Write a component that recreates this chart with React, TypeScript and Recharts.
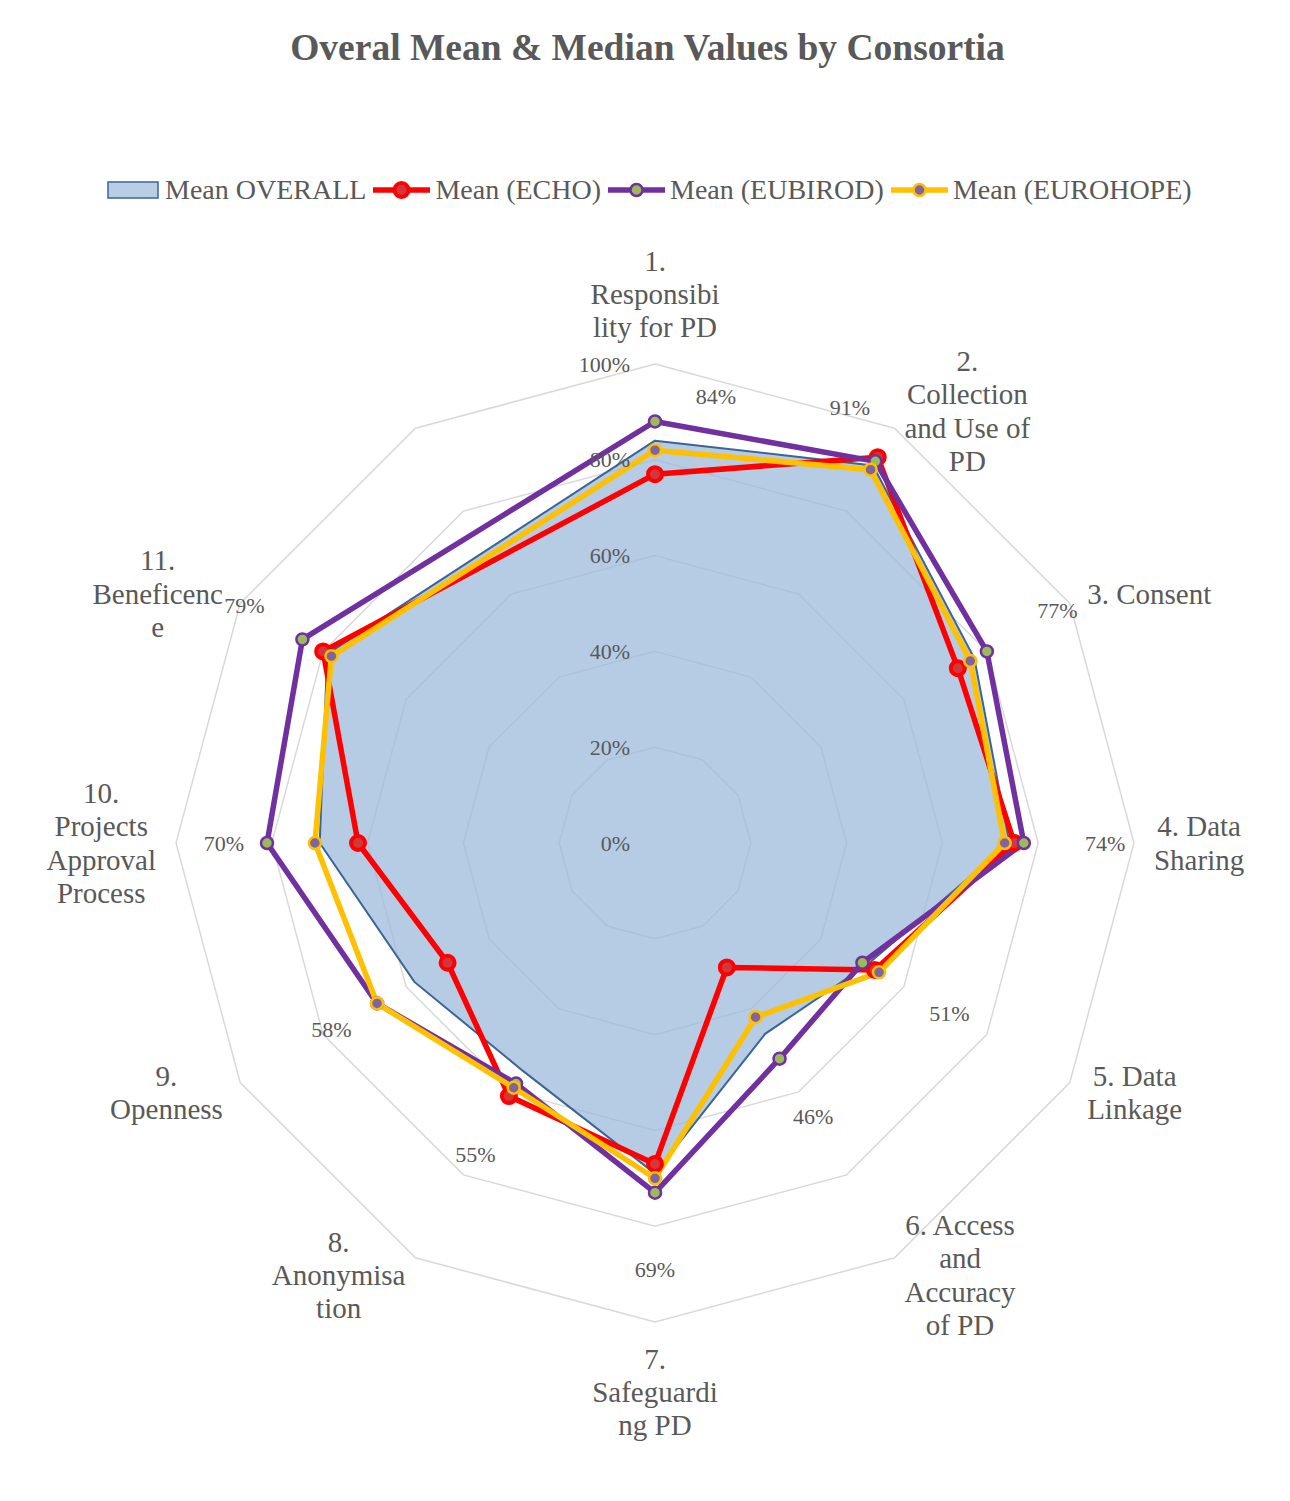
import React from 'react'
import { RadarChart, Radar, PolarGrid, PolarAngleAxis, PolarRadiusAxis } from 'recharts'

// category labels, line breaks as Excel wrapped them; the chart has 12 spokes, the 12th is empty
const categories = [
  '1.\nResponsibi\nlity for PD',
  '2.\nCollection\nand Use of\nPD',
  '3. Consent',
  '4. Data\nSharing',
  '5. Data\nLinkage',
  '6. Access\nand\nAccuracy\nof PD',
  '7.\nSafeguardi\nng PD',
  '8.\nAnonymisa\ntion',
  '9.\nOpenness',
  '10.\nProjects\nApproval\nProcess',
  '11.\nBeneficenc\ne',
]
const spokes = [0, 1, 2, 3, 4, 5, 6, 7, 8, 9, 10, 11]

const meanOverall = [84, 91, 77, 74, 51, 46, 69, 55, 58, 70, 79]
const meanEcho = [77, 93, 73, 75, 53, 30, 67, 61, 50, 62, 80]
const meanEubirod = [88, 92, 80, 77, 50, 52, 73, 58, 67, 81, 85]
const meanEurohope = [82, 90, 76, 73, 54, 42, 70, 59, 67, 71, 78]

const seriesNames = ['Mean OVERALL', 'Mean (ECHO)', 'Mean (EUBIROD)', 'Mean (EUROHOPE)']
const radiusTicks = [0, 20, 40, 60, 80, 100]

const data = categories.map((name, i) => ({
  idx: i,
  name,
  overall: meanOverall[i],
  echo: meanEcho[i],
  eubirod: meanEubirod[i],
  eurohope: meanEurohope[i],
}))

const W = 1290
const H = 1501
const CX = 655
const CY = 843
const R = 479
const FONT = '"Liberation Serif", "Times New Roman", serif'
const TEXT = '#595959'
const CAT_SIZE = 29
const LH = 33.3

const lineSeries = [
  { key: 'echo', name: seriesNames[1], stroke: '#ff0000', dotFill: '#d0383c', dotStroke: '#ff0000', r: 7, dotWidth: 4 },
  { key: 'eubirod', name: seriesNames[2], stroke: '#7030a0', dotFill: '#9bbb59', dotStroke: '#7030a0', r: 6, dotWidth: 2.5 },
  { key: 'eurohope', name: seriesNames[3], stroke: '#ffc000', dotFill: '#8064a2', dotStroke: '#ffc000', r: 6, dotWidth: 2.5 },
]

// the first two value labels were moved by hand in the original
const labelShift: Record<number, [number, number]> = { 0: [61, -44], 1: [-23, -58] }

let ctx: CanvasRenderingContext2D | null = null
function textWidth(s: string, size: number) {
  if (!ctx) ctx = document.createElement('canvas').getContext('2d')
  if (!ctx) return s.length * size * 0.48
  ctx.font = `${size}px "Liberation Serif"`
  return ctx.measureText(s).width
}

function CategoryTick(props: any) {
  const { x, y, payload } = props
  const label = categories[Number(payload.value)]
  if (!label) return <g />
  const lines = label.split('\n')
  const a = (-payload.coordinate * Math.PI) / 180
  const ux = Math.cos(a)
  const uy = Math.sin(a)
  const px = x + 12 * ux
  const py = y + 12 * uy
  const w = Math.max(...lines.map((l) => textWidth(l, CAT_SIZE)))
  let mx = px
  if (ux > 0.1) mx = px + w / 2
  else if (ux < -0.1) mx = px - w / 2
  const n = lines.length
  let firstY = py - ((n - 1) * LH) / 2
  if (uy < -0.9) firstY = py - LH / 2 - (n - 1) * LH
  else if (uy > 0.9) firstY = py + LH / 2
  return (
    <g>
      {lines.map((l, i) => (
        <text
          key={i}
          x={mx}
          y={firstY + i * LH}
          textAnchor="middle"
          dominantBaseline="central"
          fontFamily={FONT}
          fontSize={CAT_SIZE}
          fill={TEXT}
        >
          {l}
        </text>
      ))}
    </g>
  )
}

function RadiusTick(props: any) {
  const { x, y, payload } = props
  return (
    <text x={x - 25} y={y} textAnchor="end" dominantBaseline="central" fontFamily={FONT} fontSize={22} fill={TEXT}>
      {payload.value}%
    </text>
  )
}

function ValueLabel(props: any) {
  const { cx, cy, payload, index } = props
  let v = props.value
  if (typeof v !== 'number') v = payload?.value
  if (typeof v !== 'number') v = payload?.overall
  if (typeof v !== 'number') v = payload?.payload?.overall
  if (typeof v !== 'number' || !Number.isFinite(cx) || !Number.isFinite(cy)) return <g key={`l-${index}`} />
  const ox = typeof payload?.cx === 'number' ? payload.cx : CX
  const oy = typeof payload?.cy === 'number' ? payload.cy : CY
  const d = Math.hypot(cx - ox, cy - oy) || 1
  const shift = labelShift[index] ?? [((cx - ox) / d) * R * 0.2, ((cy - oy) / d) * R * 0.2]
  return (
    <text
      key={`l-${index}`}
      x={cx + shift[0]}
      y={cy + shift[1]}
      textAnchor="middle"
      dominantBaseline="central"
      fontFamily={FONT}
      fontSize={22}
      fill={TEXT}
    >
      {v}%
    </text>
  )
}

function LegendIcon({ s }: { s?: (typeof lineSeries)[number] }) {
  if (!s) {
    return (
      <svg width={52} height={18} style={{ display: 'block' }}>
        <rect x={1} y={1} width={50} height={16} fill="#b9cde5" stroke="#3a6596" strokeWidth={1.5} />
      </svg>
    )
  }
  return (
    <svg width={57} height={20} style={{ display: 'block' }}>
      <line x1={0} y1={10} x2={57} y2={10} stroke={s.stroke} strokeWidth={5.5} />
      <circle cx={28.5} cy={10} r={s.r} fill={s.dotFill} stroke={s.dotStroke} strokeWidth={s.dotWidth} />
    </svg>
  )
}

export default function App() {
  return (
    <div style={{ position: 'relative', width: W, height: H, background: '#fff' }}>
      <style>{'body{margin:0}'}</style>
      <div
        style={{
          position: 'absolute',
          top: 28,
          left: 0,
          width: W + 5,
          textAlign: 'center',
          fontFamily: FONT,
          fontSize: 37.5,
          fontWeight: 'bold',
          color: TEXT,
          lineHeight: '40px',
        }}
      >
        Overal Mean &amp; Median Values by Consortia
      </div>
      <div
        style={{
          position: 'absolute',
          top: 172,
          left: 107,
          height: 36,
          display: 'flex',
          alignItems: 'center',
          fontFamily: FONT,
          fontSize: 28,
          color: TEXT,
          whiteSpace: 'nowrap',
        }}
      >
        <LegendIcon />
        <span style={{ marginLeft: 6, marginRight: 7 }}>{seriesNames[0]}</span>
        {lineSeries.map((s) => (
          <React.Fragment key={s.key}>
            <LegendIcon s={s} />
            <span style={{ marginLeft: 5, marginRight: 7 }}>{s.name}</span>
          </React.Fragment>
        ))}
      </div>
      <div style={{ position: 'absolute', left: 0, top: 0 }}>
        <RadarChart
          width={W}
          height={H}
          cx={CX}
          cy={CY}
          outerRadius={R}
          data={data}
          margin={{ top: 0, right: 0, bottom: 0, left: 0 }}
        >
          <PolarGrid gridType="polygon" radialLines={false} stroke="#d9d9d9" strokeWidth={1.5} />
          <PolarAngleAxis
            dataKey="idx"
            type="number"
            domain={[0, spokes.length]}
            ticks={spokes}
            tickCount={spokes.length + 1}
            tick={CategoryTick}
            tickLine={false}
            axisLine={false}
            tickSize={8}
          />
          <PolarRadiusAxis
            angle={90}
            domain={[0, 100]}
            tickCount={radiusTicks.length}
            tick={RadiusTick}
            axisLine={false}
            tickLine={false}
          />
          <Radar
            name={seriesNames[0]}
            dataKey="overall"
            stroke="#3a6596"
            strokeWidth={2}
            fill="#9ab7da"
            fillOpacity={0.72}
            dot={false}
            isAnimationActive={false}
          />
          {lineSeries.map((s) => (
            <Radar
              key={s.key}
              name={s.name}
              dataKey={s.key}
              stroke={s.stroke}
              strokeWidth={5.5}
              strokeLinejoin="round"
              fill="none"
              fillOpacity={0}
              dot={{ r: s.r, fill: s.dotFill, stroke: s.dotStroke, strokeWidth: s.dotWidth, fillOpacity: 1 }}
              isAnimationActive={false}
            />
          ))}
          <Radar
            dataKey="overall"
            stroke="none"
            fill="none"
            dot={ValueLabel}
            legendType="none"
            isAnimationActive={false}
          />
        </RadarChart>
      </div>
    </div>
  )
}
